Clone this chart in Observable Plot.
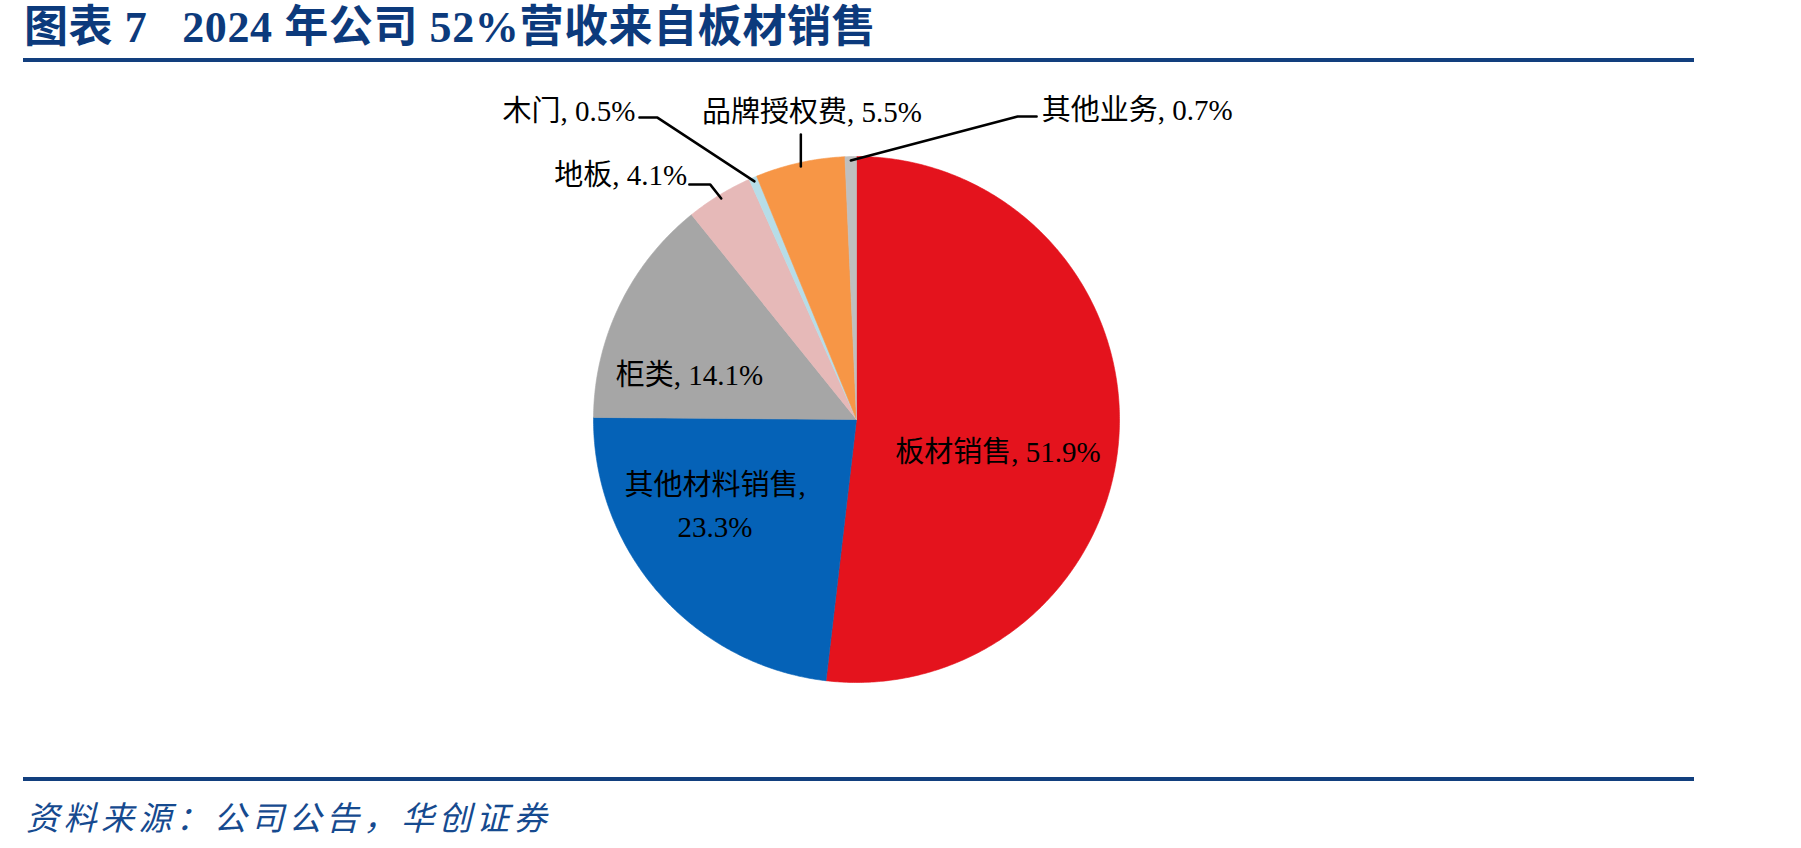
<!DOCTYPE html>
<html>
<head>
<meta charset="utf-8">
<script src="https://cdn.jsdelivr.net/npm/d3@7"></script>
<script src="https://cdn.jsdelivr.net/npm/@observablehq/plot@0.6"></script>
<style>
  html, body { margin: 0; padding: 0; background: #fff; width: 1801px; height: 848px; overflow: hidden; }
  #title { position: absolute; left: 24px; top: 2px; font: bold 44px/52px "Liberation Serif", "Noto Sans CJK SC", serif; letter-spacing: 0.6px; color: #0c3a7c; white-space: pre; }
  .rule { position: absolute; left: 23px; width: 1671px; height: 4px; background: #123f7e; }
  #chart { position: absolute; left: 0; top: 64px; }
  #footer { position: absolute; left: 26px; top: 795px; font: italic 33px/42px "Noto Sans CJK SC", sans-serif; letter-spacing: 4.5px; color: #164a8f; white-space: pre; }
</style>
</head>
<body>
<div id="title">图表 7   2024 年公司 52%营收来自板材销售</div>
<div class="rule" style="top:58px"></div>
<div id="chart"></div>
<div class="rule" style="top:777px"></div>
<div id="footer">资料来源：公司公告，华创证券</div>
<script>
// ---- data ----
const names  = ["板材销售", "其他材料销售", "柜类", "地板", "木门", "品牌授权费", "其他业务"];
const shares = [51.9, 23.3, 14.1, 4.1, 0.5, 5.5, 0.7];
const labels = ["板材销售, 51.9%", "其他材料销售,\n23.3%", "柜类, 14.1%", "地板, 4.1%", "木门, 0.5%", "品牌授权费, 5.5%", "其他业务, 0.7%"];
const colors = ["#E4131D", "#0562B7", "#A6A6A6", "#E6B9B8", "#B7DDE8", "#F79646", "#BFBFBF"];

// ---- geometry (unit circle, clockwise from 12 o'clock) ----
const R = 263;                 // pie radius in px
const cx = 856, cy = 355;      // pie centre inside the svg
const polar = (a, r) => ({x: r * Math.sin(a), y: r * Math.cos(a)});
const deg = d => d * Math.PI / 180;
const px = p => p / R;         // pixel length -> unit length

const arcs = d3.pie().sort(null).value(d => d)(shares);

const slicePts = [];
arcs.forEach((a, i) => {
  const n = Math.max(2, Math.ceil((a.endAngle - a.startAngle) / deg(0.5)));
  slicePts.push({name: names[i], ...polar(0, 0)});
  for (let k = 0; k <= n; k++) {
    const t = a.startAngle + (a.endAngle - a.startAngle) * k / n;
    slicePts.push({name: names[i], ...polar(t, 1)});
  }
  slicePts.push({name: names[i], x: 0, y: 0});
});
const mid = i => (arcs[i].startAngle + arcs[i].endAngle) / 2;

// inside labels: placed around the slice centroid
const inside = [
  {i: 0, r: 0.55, dx: -3, dy: 20},
  {i: 1, r: 0.55, dx: -33, dy: -13},
  {i: 2, r: 0.60, dx: -25, dy: 20}
];
const insideText = inside.map(o => ({text: labels[o.i], dx: o.dx, dy: o.dy, ...polar(mid(o.i), o.r)}));

// outside labels with leader lines
const leaders = [];
const outsideText = [];
function leader(i, elbow, stub, anchor, tdx, tdy) {
  const s = polar(mid(i), 0.985);
  const e = elbow(s);
  const end = {x: e.x + px(stub), y: e.y};
  [s, e, end].forEach(p => leaders.push({name: names[i], ...p}));
  outsideText.push({text: labels[i], x: end.x, y: end.y, anchor, dx: tdx, dy: tdy});
}
leader(3, () => polar(deg(328.1), 1.052), -21, "end", -2, -9);
leader(4, () => polar(deg(326.6), 1.375), -18, "end", -4, -6);
leader(5, s => ({x: s.x, y: s.y + px(32)}), 0, "middle", 11, -22);
leader(6, () => polar(deg(28), 1.305), 19, "start", 5, -6);

const font = '"Liberation Serif", "Noto Sans CJK SC", serif';

const chart = Plot.plot({
  width: 1801,
  height: 712,
  margin: 0,
  x: {domain: [-1, 1], range: [cx - R, cx + R], axis: null},
  y: {domain: [-1, 1], range: [cy + R, cy - R], axis: null},
  color: {domain: names, range: colors},
  marks: [
    ...names.map(n => Plot.line(slicePts.filter(d => d.name === n), {
      x: "x", y: "y", fill: colors[names.indexOf(n)], stroke: colors[names.indexOf(n)], strokeWidth: 0.6
    })),
    Plot.line(leaders, {x: "x", y: "y", z: "name", stroke: "#000", strokeWidth: 2.5, strokeLinejoin: "miter"}),
    ...insideText.map(t => Plot.text([t], {
      x: "x", y: "y", text: "text", dx: t.dx, dy: t.dy, fontSize: 29, fontFamily: font, fill: "#000", lineHeight: 1.48
    })),
    ...outsideText.map(t => Plot.text([t], {
      x: "x", y: "y", text: "text", dx: t.dx, dy: t.dy, textAnchor: t.anchor, fontSize: 29, fontFamily: font, fill: "#000"
    }))
  ]
});
document.getElementById("chart").appendChild(chart);
</script>
</body>
</html>
